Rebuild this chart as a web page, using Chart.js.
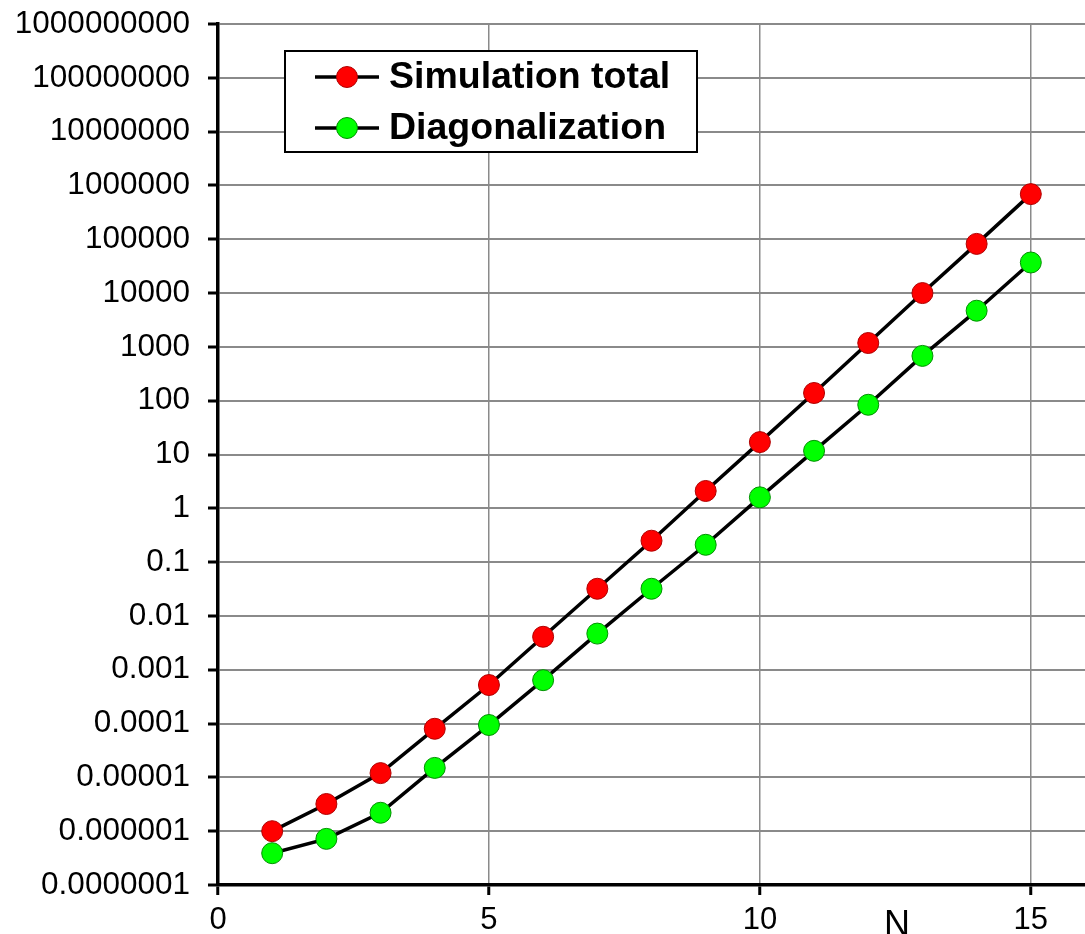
<!DOCTYPE html>
<html>
<head>
<meta charset="utf-8">
<script src="https://cdn.jsdelivr.net/npm/chart.js@4.4.1/dist/chart.umd.min.js"></script>
<style>
  html, body { margin: 0; padding: 0; background: #fff; overflow: hidden; }
  canvas { display: block; }
</style>
</head>
<body>
<canvas id="c" width="1085" height="934"></canvas>
<script>
const nValues = [1, 2, 3, 4, 5, 6, 7, 8, 9, 10, 11, 12, 13, 14, 15];
const simulationTotal = [1e-6, 3.2e-6, 1.2e-5, 8e-5, 5.2e-4, 4.1e-3, 0.032, 0.25, 2.1, 17, 139, 1180, 1.0e4, 8.2e4, 6.9e5];
const diagonalization = [3.9e-7, 7.2e-7, 2.2e-6, 1.5e-5, 9.4e-5, 6.4e-4, 4.7e-3, 0.032, 0.21, 1.6, 11.7, 84, 680, 4700, 3.7e4];
const xTicks = [0, 5, 10, 15];
const yTickValues = [1e-7, 1e-6, 1e-5, 1e-4, 1e-3, 1e-2, 1e-1, 1, 10, 100, 1e3, 1e4, 1e5, 1e6, 1e7, 1e8, 1e9];
const yTickLabels = ['0.0000001', '0.000001', '0.00001', '0.0001', '0.001', '0.01', '0.1', '1', '10', '100', '1000', '10000', '100000', '1000000', '10000000', '100000000', '1000000000'];
const seriesNames = ['Simulation total', 'Diagonalization'];
const xTitle = 'N';

const FONT = "'Liberation Sans', Arial, sans-serif";

const legendPlugin = {
  id: 'insideLegend',
  afterDraw(chart) {
    const ctx = chart.ctx;
    ctx.save();
    const bx = 285, by = 51, bw = 412, bh = 101;
    ctx.fillStyle = '#fff';
    ctx.fillRect(bx, by, bw, bh);
    ctx.strokeStyle = '#000';
    ctx.lineWidth = 2;
    ctx.strokeRect(bx, by, bw, bh);
    const rows = [77, 128];
    chart.data.datasets.forEach((ds, i) => {
      const y = rows[i];
      ctx.strokeStyle = '#000';
      ctx.lineWidth = 3.5;
      ctx.beginPath();
      ctx.moveTo(315, y);
      ctx.lineTo(379, y);
      ctx.stroke();
      ctx.beginPath();
      ctx.arc(347, y, 10.5, 0, Math.PI * 2);
      ctx.fillStyle = ds.pointBackgroundColor;
      ctx.fill();
      ctx.lineWidth = 1;
      ctx.strokeStyle = ds.pointBorderColor;
      ctx.stroke();
      ctx.fillStyle = '#000';
      ctx.font = "bold 37.5px " + FONT;
      ctx.textBaseline = 'middle';
      ctx.textAlign = 'left';
      ctx.fillText(ds.label, 389, y + 1);
    });
    ctx.font = "36px " + FONT;
    ctx.textAlign = 'center';
    ctx.textBaseline = 'alphabetic';
    ctx.fillStyle = '#000';
    ctx.fillText(xTitle, 897, 936);
    ctx.restore();
  }
};

new Chart(document.getElementById('c'), {
  type: 'line',
  data: {
    datasets: [
      {
        label: seriesNames[0],
        data: nValues.map((n, i) => ({ x: n, y: simulationTotal[i] })),
        borderColor: '#000',
        borderWidth: 3.5,
        pointRadius: 10.5,
        pointBackgroundColor: '#ff0000',
        pointBorderColor: '#b00000',
        pointBorderWidth: 1,
        tension: 0
      },
      {
        label: seriesNames[1],
        data: nValues.map((n, i) => ({ x: n, y: diagonalization[i] })),
        borderColor: '#000',
        borderWidth: 3.5,
        pointRadius: 10.5,
        pointBackgroundColor: '#00ff00',
        pointBorderColor: '#009000',
        pointBorderWidth: 1,
        tension: 0
      }
    ]
  },
  options: {
    responsive: false,
    animation: false,
    devicePixelRatio: 1,
    layout: { autoPadding: false, padding: { top: 24, right: 0, left: 0, bottom: 0 } },
    plugins: { legend: { display: false }, tooltip: { enabled: false } },
    scales: {
      x: {
        type: 'linear',
        min: 0,
        max: 16,
        afterBuildTicks(scale) { scale.ticks = xTicks.map(v => ({ value: v })); },
        afterFit(scale) { scale.height = 49; scale.paddingLeft = 0; scale.paddingRight = 0; },
        grid: { color: '#8a8a8a', lineWidth: 1.5, tickColor: '#000', tickLength: 10, tickWidth: 3 },
        border: { color: '#000', width: 3.5 },
        ticks: { color: '#000', font: { family: FONT, size: 31 }, padding: 7, maxRotation: 0, autoSkip: false }
      },
      y: {
        type: 'logarithmic',
        min: 1e-7,
        max: 1e9,
        afterBuildTicks(scale) { scale.ticks = yTickValues.map(v => ({ value: v })); },
        afterFit(scale) { scale.width = 218; scale.paddingTop = 0; scale.paddingBottom = 0; },
        grid: { color: '#8a8a8a', lineWidth: 2, tickColor: '#000', tickLength: 10, tickWidth: 3 },
        border: { color: '#000', width: 3.5 },
        ticks: {
          color: '#000',
          font: { family: FONT, size: 31.5 },
          padding: 18,
          autoSkip: false,
          callback(value) {
            const idx = yTickValues.findIndex(v => Math.abs(Math.log10(v) - Math.log10(value)) < 1e-6);
            return idx >= 0 ? yTickLabels[idx] : '';
          }
        }
      }
    }
  },
  plugins: [legendPlugin]
});
</script>
</body>
</html>
